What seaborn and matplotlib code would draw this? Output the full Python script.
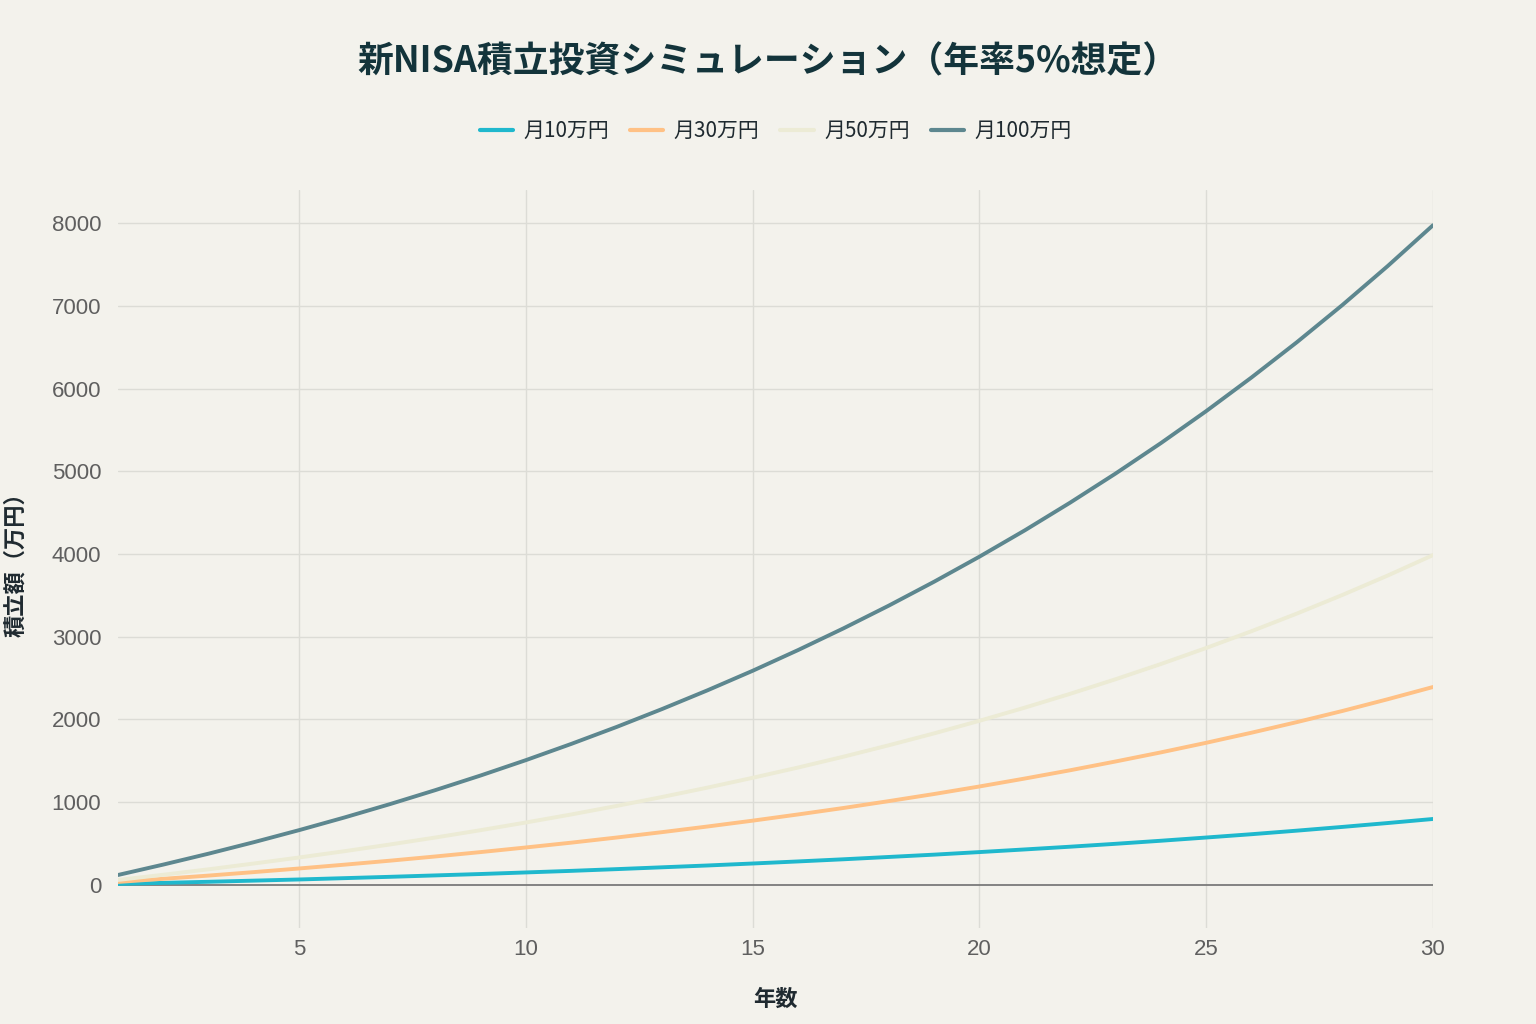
import pandas as pd
import seaborn as sns
import matplotlib.pyplot as plt

# values (万円), years 1..30
years = list(range(1, 31))
m10 = [12, 25, 38, 52, 66, 82, 98, 115, 132, 151, 170, 191, 213, 235, 259,
       284, 310, 338, 366, 397, 429, 462, 497, 534, 573, 613, 656, 701, 748, 797]
m30 = [36, 74, 113, 155, 199, 245, 293, 344, 397, 453, 511, 573, 638, 706, 777,
       852, 930, 1013, 1099, 1190, 1286, 1386, 1492, 1602, 1718, 1840, 1968, 2102, 2244, 2392]
m50 = [60, 123, 189, 259, 332, 408, 489, 573, 662, 755, 852, 955, 1063, 1176, 1295,
       1419, 1550, 1688, 1832, 1984, 2143, 2310, 2486, 2670, 2864, 3067, 3280, 3504, 3739, 3986]
m100 = [120, 246, 378, 517, 663, 816, 977, 1146, 1323, 1509, 1705, 1910, 2126, 2352, 2589,
        2839, 3101, 3376, 3665, 3968, 4286, 4621, 4972, 5340, 5727, 6134, 6560, 7008, 7479, 7973]
series_names = ['月10万円', '月30万円', '月50万円', '月100万円']
colors = ['#1FB8CD', '#FFC185', '#ECEBD5', '#5D878F']

df = pd.DataFrame({'年数': years * 4,
                   '積立額': m10 + m30 + m50 + m100,
                   'プラン': [n for n in series_names for _ in years]})

bg = '#F3F2EC'
sns.set_theme(style='white')
plt.rcParams['font.family'] = ['Noto Sans CJK JP', 'DejaVu Sans']

fig = plt.figure(figsize=(15.36, 10.24), dpi=100, facecolor=bg)
ax = fig.add_axes([0.0768, 0.0938, 0.8561, 0.7207], facecolor=bg)

sns.lineplot(data=df, x='年数', y='積立額', hue='プラン', palette=colors,
             hue_order=series_names, linewidth=2.8, ax=ax, legend=False)

ax.set_xlim(1, 30)
ax.set_ylim(-520, 8400)
ax.set_xticks([5, 10, 15, 20, 25, 30])
ax.set_yticks(range(0, 8001, 1000))
for x in [5, 10, 15, 20, 25, 30]:
    ax.axvline(x, color='#DCDCD6', lw=1, zorder=0)
for y in range(1000, 8001, 1000):
    ax.axhline(y, color='#DCDCD6', lw=1, zorder=0)
ax.axhline(0, color='#7A7A7A', lw=1.3, zorder=1)
for s in ax.spines.values():
    s.set_visible(False)
ax.tick_params(axis='both', length=0, labelsize=16, colors='#5F5F5F')
ax.tick_params(axis='x', pad=8)
ax.tick_params(axis='y', pad=12)
for lab in ax.get_xticklabels() + ax.get_yticklabels():
    lab.set_fontfamily(['Liberation Sans', 'DejaVu Sans'])

ax.set_xlabel('年数', fontsize=16, fontweight='bold', color='#1F2A30', labelpad=20)
ax.set_ylabel('積立額（万円）', fontsize=16, fontweight='bold', color='#1F2A30', labelpad=18)

fig.text(0.5, 0.94, '新NISA積立投資シミュレーション（年率5%想定）', ha='center', va='center',
         fontsize=25.8, fontweight='bold', color='#13343B')

handles = [plt.Line2D([], [], color=c, lw=3) for c in colors]
fig.legend(handles, series_names, loc='center', bbox_to_anchor=(0.505, 0.872), ncol=4,
           frameon=False, fontsize=15, handlelength=1.6, columnspacing=1.0,
           handletextpad=0.5, labelcolor='#1F2A30')

fig.savefig('out.png', dpi=100, facecolor=bg)
